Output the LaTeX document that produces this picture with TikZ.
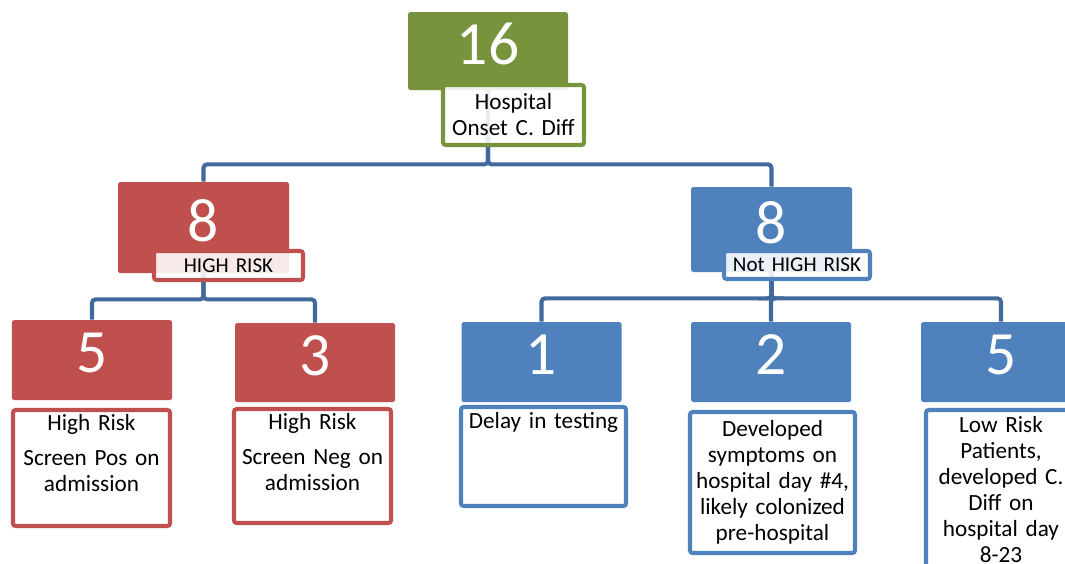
\documentclass[tikz,border=0pt]{standalone}
\usepackage{fontspec}
\setmainfont{Carlito}
\usetikzlibrary{backgrounds}
\definecolor{boxgreen}{RGB}{119,147,60}
\definecolor{boxred}{RGB}{192,80,77}
\definecolor{boxblue}{RGB}{79,129,189}
\definecolor{linkblue}{RGB}{65,105,155}

\begin{document}
\begin{tikzpicture}[x=0.2mm, y=-0.2mm,
    numbox/.style={fill=#1, rounded corners=1pt, inner sep=0pt, minimum width=32mm, minimum height=16mm,
        text=white, text depth=2.8mm, font=\fontsize{35}{40}\selectfont},
    lbl/.style={draw=#1, line width=2.3pt, fill=white, fill opacity=0.88, text opacity=1, rounded corners=1.5pt,
        inner sep=0pt, align=center, font=\fontsize{13.2}{14.8}\selectfont},
    risk/.style={font=\fontsize{12}{14}\selectfont},
    conn/.style={draw=linkblue, line width=2.3pt, rounded corners=2pt}]
    \useasboundingbox (0,0) rectangle (1065,563);

    \node[numbox=boxgreen, minimum height=15.6mm] (top) at (488,51) {16};
    \node[lbl=boxgreen, text width=28.2mm, minimum height=12mm] (toplbl) at (513.5,115) {Hospital\\Onset C. Diff};

    \node[numbox=boxred, minimum width=34.2mm, minimum height=18.2mm] (hr) at (203.5,227.5) {8};
    \node[lbl=boxred, risk, text width=29.8mm, minimum height=5.8mm] (hrlbl) at (228.5,265.5) {HIGH RISK};
    \node[numbox=boxblue, minimum width=32.2mm, minimum height=17mm] (nhr) at (771.5,229.5) {8};
    \node[lbl=boxblue, risk, text width=29.2mm, minimum height=5.6mm] (nhrlbl) at (797,265) {Not HIGH RISK};

    \node[numbox=boxred] (pos) at (92,360) {5};
    \node[lbl=boxred, text width=31.4mm, text height=4mm, text depth=19.2mm] (poslbl) at (91.5,468)
        {High Risk\\[5.6pt]Screen Pos on\\admission};
    \node[numbox=boxred, minimum height=15.8mm] (neg) at (315,362.5) {3};
    \node[lbl=boxred, text width=31.4mm, text height=4mm, text depth=18.8mm] (neglbl) at (312.5,466)
        {High Risk\\[5.6pt]Screen Neg on\\admission};

    \node[numbox=boxblue] (delay) at (541.5,362) {1};
    \node[lbl=boxblue, text width=33mm, text height=4.2mm, text depth=15.6mm] (delaylbl) at (543.5,456.5)
        {Delay in testing};
    \node[numbox=boxblue] (sympt) at (771,362) {2};
    \node[lbl=boxblue, text width=33mm, minimum height=28.2mm] (symptlbl) at (772.5,482.5)
        {Developed\\symptoms on\\hospital day \#4,\\likely colonized\\pre-hospital};
    \node[numbox=boxblue] (lowrisk) at (1001,362) {5};
    \node[lbl=boxblue, text width=30mm, text height=4.4mm, text depth=27.6mm] (lowrisklbl) at (1001,490)
        {Low Risk\\Patients,\\developed C.\\Diff on\\hospital day\\8-23};

    % connectors behind the boxes
    \begin{scope}[on background layer]
        \draw[conn] (top.south) -- ++(0,74) -| (hr.north);
        \draw[conn] (top.south) -- ++(0,74) -| (nhr.north);
        \draw[conn] (hr.south) -- ++(0,26) -| (pos.north);
        \draw[conn] (hr.south) -- ++(0,26) -| (neg.north);
        \draw[conn] (nhr.south) -- ++(0,26) -| (delay.north);
        \draw[conn] (nhr.south) -- ++(0,26) -| (sympt.north);
        \draw[conn] (nhr.south) -- ++(0,26) -| (lowrisk.north);
    \end{scope}
\end{tikzpicture}
\end{document}
